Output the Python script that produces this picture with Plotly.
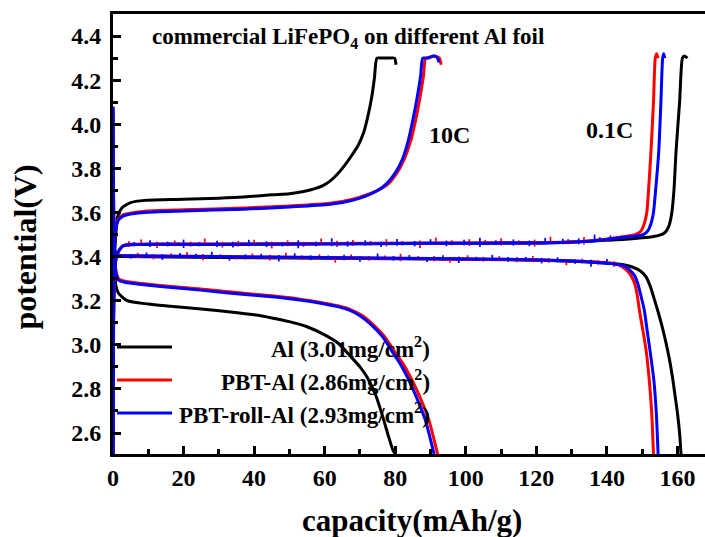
import plotly.graph_objects as go

FONT = "Liberation Serif"

# ---------------- data (capacity mAh/g, potential V) ----------------
# 10C charge
al_10c_chg_x = [0, 0.2, 0.6, 1.3, 2.5, 5, 9, 20, 30, 37, 45, 50, 54, 57, 59.5, 61.5, 63.5, 65.5, 67.5, 69.5, 71, 72.3, 73.3, 74.1, 74.8, 76, 78, 79.8, 80.2]
al_10c_chg_v = [2.5, 3.2, 3.45, 3.58, 3.62, 3.645, 3.655, 3.66, 3.665, 3.67, 3.68, 3.685, 3.695, 3.707, 3.722, 3.742, 3.772, 3.81, 3.855, 3.905, 3.96, 4.04, 4.12, 4.21, 4.30, 4.30, 4.30, 4.30, 4.27]
pbt_10c_chg_x = [0, 0.2, 0.6, 1.5, 3, 8.6, 20, 37, 50, 60, 65, 70, 75, 78, 80.5, 82.5, 84.3, 85.8, 87, 88, 88.6, 89.5, 91, 92.5, 93.0]
pbt_10c_chg_v = [2.5, 3.3, 3.5, 3.57, 3.59, 3.605, 3.612, 3.62, 3.63, 3.64, 3.65, 3.67, 3.70, 3.73, 3.78, 3.84, 3.92, 4.02, 4.12, 4.22, 4.30, 4.30, 4.31, 4.30, 4.27]
roll_10c_chg_x = [0, 0.2, 0.6, 1.5, 3, 8.6, 20, 37, 50, 60, 65, 70, 75, 77.5, 80, 82, 83.6, 85, 86.2, 87.2, 87.8, 89, 91, 92.0, 92.4]
roll_10c_chg_v = [2.5, 3.3, 3.5, 3.565, 3.585, 3.60, 3.607, 3.615, 3.625, 3.635, 3.645, 3.665, 3.70, 3.73, 3.78, 3.84, 3.92, 4.02, 4.12, 4.22, 4.30, 4.30, 4.31, 4.30, 4.28]

# 10C discharge
al_10c_dis_x = [0, 0.3, 0.8, 1.5, 4, 10, 15.4, 25, 34, 40, 45, 50, 55, 60, 64, 67.2, 70, 72, 74.5, 76.5, 78, 79.4, 80]
al_10c_dis_v = [4.05, 3.45, 3.27, 3.235, 3.20, 3.185, 3.176, 3.162, 3.148, 3.136, 3.122, 3.105, 3.082, 3.045, 3.005, 2.95, 2.9, 2.854, 2.77, 2.672, 2.59, 2.52, 2.505]
pbt_10c_dis_x = [0, 0.3, 0.8, 1.6, 3, 5.8, 15, 24.8, 35, 45, 53, 60, 64, 67.3, 70.5, 73.5, 77.1, 80, 82.1, 84.6, 87, 89.5, 92]
pbt_10c_dis_v = [4.06, 3.5, 3.34, 3.30, 3.29, 3.283, 3.267, 3.253, 3.237, 3.222, 3.207, 3.189, 3.176, 3.16, 3.134, 3.095, 3.035, 2.965, 2.917, 2.845, 2.763, 2.66, 2.505]
roll_10c_dis_x = [0, 0.3, 0.8, 1.6, 3, 5.8, 15, 24.8, 35, 45, 53, 60, 64, 67, 70, 73, 76.5, 79.3, 81.3, 83.7, 86, 88.5, 91]
roll_10c_dis_v = [4.08, 3.5, 3.33, 3.293, 3.285, 3.278, 3.262, 3.248, 3.232, 3.218, 3.203, 3.185, 3.172, 3.157, 3.132, 3.094, 3.035, 2.965, 2.917, 2.845, 2.763, 2.66, 2.505]

# 0.1C charge
al_01c_chg_x = [0, 0.4, 1.0, 1.8, 2.8, 4.5, 30, 60, 90, 121, 135, 144.5, 150, 152.9, 155, 156.5, 157.6, 158.4, 159, 159.6, 160.6, 161.4, 162.0, 162.8]
al_01c_chg_v = [2.5, 3.33, 3.40, 3.43, 3.448, 3.454, 3.456, 3.458, 3.46, 3.462, 3.47, 3.478, 3.485, 3.49, 3.497, 3.51, 3.54, 3.6, 3.7, 3.88, 4.1, 4.30, 4.31, 4.30]
pbt_01c_chg_x = [0, 0.4, 1.0, 1.8, 2.8, 4.5, 30, 60, 90, 120, 135, 144.5, 148, 149.6, 150.6, 151.3, 151.8, 152.5, 153.2, 153.7, 154.1, 154.5]
pbt_01c_chg_v = [2.5, 3.33, 3.40, 3.43, 3.45, 3.456, 3.457, 3.459, 3.461, 3.463, 3.471, 3.49, 3.5, 3.515, 3.55, 3.6, 3.7, 3.88, 4.1, 4.30, 4.32, 4.30]
roll_01c_chg_x = [0, 0.4, 1.0, 1.8, 2.8, 4.5, 30, 60, 90, 120, 135, 146, 150, 151.5, 152.5, 153.2, 153.8, 154.7, 155.3, 155.8, 156.1, 156.4]
roll_01c_chg_v = [2.5, 3.33, 3.40, 3.43, 3.448, 3.454, 3.455, 3.457, 3.46, 3.462, 3.47, 3.49, 3.498, 3.515, 3.55, 3.6, 3.7, 3.88, 4.1, 4.30, 4.32, 4.30]

# 0.1C discharge
al_01c_dis_x = [0, 0.3, 0.8, 1.5, 3, 40, 80, 121, 135, 143.6, 147.2, 149.5, 151.1, 152.4, 153.5, 154.5, 155.4, 156.3, 157.2, 158, 158.7, 159.4, 160, 160.6, 161]
al_01c_dis_v = [4.0, 3.45, 3.41, 3.402, 3.40, 3.395, 3.39, 3.384, 3.375, 3.365, 3.353, 3.335, 3.308, 3.26, 3.203, 3.15, 3.098, 3.04, 2.976, 2.91, 2.84, 2.76, 2.69, 2.6, 2.505]
pbt_01c_dis_x = [0, 0.3, 0.8, 1.5, 3, 30, 60, 90, 115, 130, 140, 143.6, 145.5, 146.8, 147.8, 148.6, 149.2, 150.2, 151.1, 152, 152.7, 153.2]
pbt_01c_dis_v = [4.0, 3.45, 3.41, 3.404, 3.404, 3.4, 3.395, 3.39, 3.386, 3.38, 3.372, 3.36, 3.34, 3.315, 3.28, 3.225, 3.157, 3.065, 2.976, 2.84, 2.69, 2.505]
roll_01c_dis_x = [0, 0.3, 0.8, 1.5, 3, 30, 60, 90, 115, 130, 140, 144.5, 146.4, 147.8, 148.7, 149.6, 150.6, 151.4, 152.2, 153.3, 154, 154.5]
roll_01c_dis_v = [4.08, 3.45, 3.41, 3.404, 3.404, 3.4, 3.396, 3.391, 3.387, 3.38, 3.37, 3.36, 3.34, 3.315, 3.28, 3.225, 3.157, 3.065, 2.976, 2.84, 2.69, 2.505]

# 0.1C measurement noise (hair spikes on the plateaus): position, low and high potential
pbt_chg_noise_x = [4.5, 8, 12.5, 17.5, 22, 26, 31, 35.5, 40, 45, 49.5, 54, 59, 63.5, 68, 73, 77.5, 82, 87, 91.5,
                   96, 101, 105.5, 110, 115, 119.5, 124, 129, 133.5, 138]
pbt_chg_noise_lo = [3.443, 3.448, 3.439, 3.447, 3.445, 3.448, 3.441, 3.446, 3.448, 3.437, 3.447, 3.444, 3.451, 3.443, 3.449, 3.451, 3.446, 3.45, 3.439, 3.454,
                    3.451, 3.448, 3.454, 3.45, 3.453, 3.445, 3.457, 3.456, 3.455, 3.466]
pbt_chg_noise_hi = [3.470, 3.478, 3.467, 3.473, 3.468, 3.482, 3.467, 3.471, 3.476, 3.468, 3.474, 3.467, 3.482, 3.472, 3.475, 3.471, 3.479, 3.47, 3.473, 3.486,
                    3.474, 3.479, 3.475, 3.483, 3.474, 3.477, 3.49, 3.48, 3.489, 3.489]
roll_chg_noise_x = [6, 10.5, 15.5, 20, 24.5, 29.5, 34, 38.5, 43.5, 48, 52.5, 57.5, 62, 66.5, 71.5, 76, 80.5, 85.5, 90, 94.5,
                    99.5, 104, 108.5, 113.5, 118, 122.5, 127.5, 132, 136.5, 141]
roll_chg_noise_lo = [3.447, 3.443, 3.446, 3.439, 3.447, 3.444, 3.441, 3.447, 3.443, 3.446, 3.438, 3.447, 3.447, 3.445, 3.45, 3.443, 3.449, 3.446, 3.453, 3.447,
                     3.452, 3.443, 3.453, 3.45, 3.447, 3.456, 3.456, 3.456, 3.465, 3.468]
roll_chg_noise_hi = [3.466, 3.474, 3.468, 3.477, 3.466, 3.472, 3.467, 3.476, 3.469, 3.466, 3.474, 3.468, 3.483, 3.47, 3.474, 3.469, 3.48, 3.471, 3.479, 3.473,
                     3.476, 3.485, 3.474, 3.478, 3.473, 3.485, 3.481, 3.483, 3.5, 3.496]
pbt_dis_noise_x = [7, 11.5, 16.5, 21, 25.5, 30.5, 35, 39.5, 44.5, 49, 53.5, 58.5, 63, 67.5, 72.5, 77, 81.5, 86.5, 91, 95.5,
                   100.5, 105, 109.5, 114.5, 119, 123.5, 128.5, 133, 137.5, 142]
pbt_dis_noise_lo = [3.394, 3.388, 3.395, 3.391, 3.384, 3.39, 3.387, 3.389, 3.382, 3.39, 3.385, 3.388, 3.373, 3.386, 3.382, 3.385, 3.379, 3.386, 3.379, 3.372,
                    3.382, 3.377, 3.381, 3.374, 3.378, 3.372, 3.361, 3.369, 3.363, 3.354]
pbt_dis_noise_hi = [3.417, 3.411, 3.415, 3.421, 3.412, 3.411, 3.406, 3.414, 3.408, 3.418, 3.406, 3.41, 3.403, 3.409, 3.402, 3.405, 3.413, 3.403, 3.403, 3.398,
                    3.406, 3.399, 3.402, 3.398, 3.403, 3.394, 3.389, 3.391, 3.383, 3.379]
roll_dis_noise_x = [5, 9.5, 14, 19, 23.5, 28, 33, 37.5, 42, 47, 51.5, 56, 61, 65.5, 70, 75, 79.5, 84, 89, 93.5,
                    98, 103, 107.5, 112, 117, 121.5, 126, 131, 135.5, 140]
roll_dis_noise_lo = [3.391, 3.395, 3.385, 3.394, 3.39, 3.395, 3.382, 3.388, 3.39, 3.378, 3.389, 3.384, 3.386, 3.383, 3.377, 3.386, 3.382, 3.385, 3.375, 3.382,
                     3.371, 3.38, 3.382, 3.377, 3.378, 3.369, 3.374, 3.367, 3.354, 3.363]
roll_dis_noise_hi = [3.412, 3.419, 3.411, 3.416, 3.413, 3.422, 3.406, 3.41, 3.413, 3.407, 3.415, 3.406, 3.405, 3.408, 3.402, 3.414, 3.403, 3.407, 3.398, 3.406,
                     3.4, 3.399, 3.408, 3.398, 3.399, 3.394, 3.397, 3.387, 3.386, 3.389]

legend_labels = ["Al (3.01mg/cm<sup>2</sup>)", "PBT-Al (2.86mg/cm<sup>2</sup>)", "PBT-roll-Al (2.93mg/cm<sup>2</sup>)"]
colors = ["#000000", "#ff0000", "#0000ff"]

series = [
    [(al_10c_chg_x, al_10c_chg_v), (al_10c_dis_x, al_10c_dis_v), (al_01c_chg_x, al_01c_chg_v), (al_01c_dis_x, al_01c_dis_v)],
    [(pbt_10c_chg_x, pbt_10c_chg_v), (pbt_10c_dis_x, pbt_10c_dis_v), (pbt_01c_chg_x, pbt_01c_chg_v), (pbt_01c_dis_x, pbt_01c_dis_v)],
    [(roll_10c_chg_x, roll_10c_chg_v), (roll_10c_dis_x, roll_10c_dis_v), (roll_01c_chg_x, roll_01c_chg_v), (roll_01c_dis_x, roll_01c_dis_v)],
]
noise = [
    [],
    [(pbt_chg_noise_x, pbt_chg_noise_lo, pbt_chg_noise_hi), (pbt_dis_noise_x, pbt_dis_noise_lo, pbt_dis_noise_hi)],
    [(roll_chg_noise_x, roll_chg_noise_lo, roll_chg_noise_hi), (roll_dis_noise_x, roll_dis_noise_lo, roll_dis_noise_hi)],
]

fig = go.Figure()
for i, curves in enumerate(series):
    for (xs, vs) in curves:
        fig.add_trace(go.Scatter(x=xs, y=vs, mode="lines", showlegend=False,
                                 line=dict(color=colors[i], width=3, shape="spline", smoothing=0.6)))
    for (nx, lo, hi) in noise[i]:
        hx, hy = [], []
        for a, b, c in zip(nx, lo, hi):
            hx += [a, a, None]
            hy += [b, c, None]
        fig.add_trace(go.Scatter(x=hx, y=hy, mode="lines", showlegend=False, connectgaps=False,
                                 line=dict(color=colors[i], width=1.7)))

axis_common = dict(
    showline=True, linecolor="black", linewidth=3, mirror=True,
    ticks="inside", ticklen=8, tickwidth=2.5, tickcolor="black",
    showgrid=False, zeroline=False,
    tickfont=dict(family=FONT, size=24, color="black", weight="bold"),
)
fig.update_xaxes(range=[0, 167.8], dtick=20, tick0=0,
                 minor=dict(dtick=10, ticks="inside", ticklen=5, tickwidth=2.5, tickcolor="black"),
                 **axis_common)
fig.update_yaxes(range=[2.505, 4.5], dtick=0.2, tick0=2.6, tickformat=".1f",
                 minor=dict(dtick=0.1, ticks="inside", ticklen=5, tickwidth=2.5, tickcolor="black"),
                 ticklabelstandoff=4, **axis_common)
fig.update_yaxes(mirror=False)

ann = []
bold = dict(family=FONT, color="black", weight="bold")
ann.append(dict(text="capacity(mAh/g)", x=0.505, y=-0.15, xref="paper", yref="paper",
                showarrow=False, xanchor="center", yanchor="middle", font=dict(size=31, **bold)))
ann.append(dict(text="potential(V)", x=-0.148, y=0.47, xref="paper", yref="paper", textangle=-90,
                showarrow=False, xanchor="center", yanchor="middle", font=dict(size=32, **bold)))
ann.append(dict(text="commercial LiFePO<sub>4</sub> on different Al foil", x=0.0625, y=0.945,
                xref="paper", yref="paper", showarrow=False, xanchor="left", yanchor="middle",
                font=dict(size=23, **bold)))
ann.append(dict(text="10C", x=0.5676, y=0.725, xref="paper", yref="paper", showarrow=False,
                xanchor="center", yanchor="middle", font=dict(size=24, **bold)))
ann.append(dict(text="0.1C", x=0.838, y=0.736, xref="paper", yref="paper", showarrow=False,
                xanchor="center", yanchor="middle", font=dict(size=24, **bold)))

shapes = []
leg_y = [0.243, 0.168, 0.093]
for lab, col, yy in zip(legend_labels, colors, leg_y):
    shapes.append(dict(type="line", xref="paper", yref="paper", x0=0.0068, x1=0.0997, y0=yy, y1=yy,
                       line=dict(color=col, width=3)))
    ann.append(dict(text=lab, x=0.539, y=yy, xref="paper", yref="paper", showarrow=False,
                    xanchor="right", yanchor="middle", font=dict(size=23, **bold)))

fig.update_layout(
    width=705, height=537,
    margin=dict(l=113, r=0, t=14, b=83),
    plot_bgcolor="white", paper_bgcolor="white",
    annotations=ann, shapes=shapes, showlegend=False,
)

fig.write_html("out.html")
